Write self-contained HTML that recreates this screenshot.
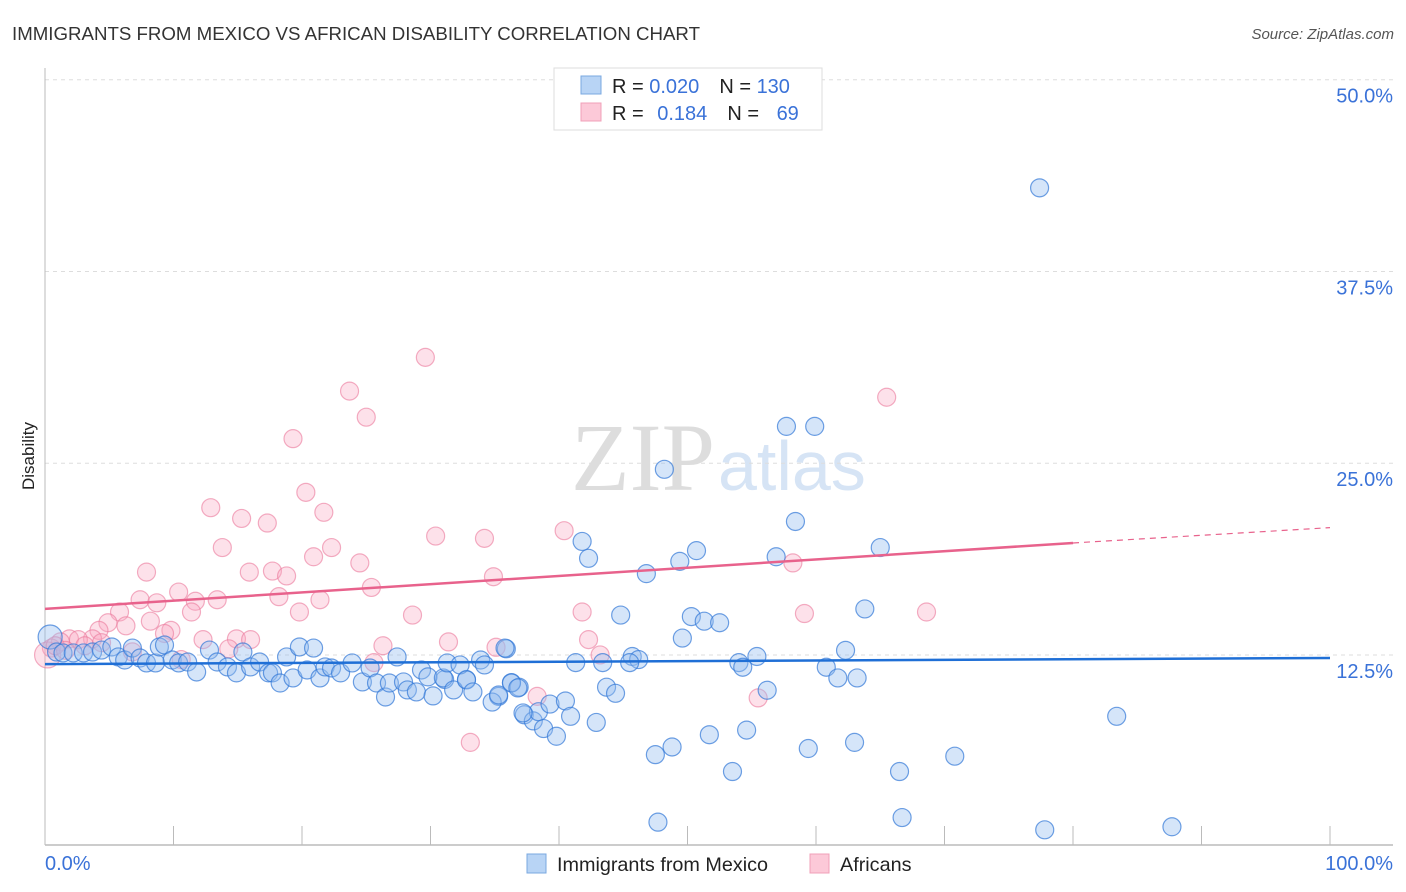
<!DOCTYPE html>
<html><head><meta charset="utf-8"><style>
body{margin:0;background:#fff;font-family:"Liberation Sans",sans-serif;}
svg{display:block}
</style></head><body>
<svg id="chart" width="1406" height="892">
<text x="12" y="40" font-size="18.5" fill="#333" textLength="688" lengthAdjust="spacingAndGlyphs">IMMIGRANTS FROM MEXICO VS AFRICAN DISABILITY CORRELATION CHART</text>
<text x="1394" y="39" font-size="15" fill="#555" text-anchor="end" font-style="italic">Source: ZipAtlas.com</text>
<text x="34" y="456" font-size="17" fill="#222" transform="rotate(-90 34 456)" text-anchor="middle">Disability</text>
<text x="715" y="490" font-size="96" fill="#ddd" text-anchor="end" font-family="Liberation Serif">ZIP</text>
<text x="718" y="490" font-size="70" fill="#d6e4f5">atlas</text>
<g id="grid"></g><g id="pts"></g><g id="lines"></g>
<g>
<rect x="554" y="68" width="268" height="62" fill="#fff" stroke="#ddd"/>
<rect x="581" y="76" width="20" height="18" fill="#b8d4f5" stroke="#7aa8e0"/>
<rect x="581" y="103" width="20" height="18" fill="#fcc9d8" stroke="#f0a0b8"/>
<text x="612" y="93" font-size="20" fill="#222">R = <tspan fill="#3a72d8">0.020</tspan><tspan dx="20">N = </tspan><tspan fill="#3a72d8">130</tspan></text>
<text x="612" y="120" font-size="20" fill="#222">R = <tspan dx="8" fill="#3a72d8">0.184</tspan><tspan dx="20">N = </tspan><tspan dx="12" fill="#3a72d8">69</tspan></text>
</g>
<g>
<rect x="527" y="854" width="19" height="19" fill="#b8d4f5" stroke="#7aa8e0"/>
<text x="557" y="871" font-size="19.8" fill="#222">Immigrants from Mexico</text>
<rect x="810" y="854" width="19" height="19" fill="#fcc9d8" stroke="#f0a0b8"/>
<text x="840" y="871" font-size="19.8" fill="#222">Africans</text>
</g>
<text x="45" y="870" font-size="20" fill="#3a72d8">0.0%</text>
<text x="1393" y="870" font-size="20" fill="#3a72d8" text-anchor="end">100.0%</text>
</svg>
<script>
const yTicks=[12.5,25,37.5,50];
const yTickLabels=["12.5%","25.0%","37.5%","50.0%"];
const xTicks=[0,10,20,30,40,50,60,70,80,90,100];
const blueX=[77.4,48.2,57.7,59.9,58.4,65,41.8,42.3,50.7,49.4,56.9,46.8,63.8,44.8,50.3,51.3,52.5,49.6,35.9,62.3,55.4,45.7,46.2,45.5,43.4,41.3,54,54.3,60.8,61.7,63.2,56.2,43.7,44.4,83.4,42.9,54.6,51.7,48.8,47.5,59.4,63,70.8,53.5,66.5,47.7,66.7,77.8,87.7,
31.1,32.8,35.3,36.3,36.9,37.3,38.0,38.4,38.8,39.3,39.8,40.5,40.9,
0.4,0.9,1.4,2.2,3.0,3.7,4.4,5.2,5.7,6.2,6.8,7.4,7.9,8.6,8.9,9.3,9.9,10.4,11.1,11.8,12.8,13.4,14.2,14.9,15.4,16.0,16.7,17.4,17.7,18.3,18.8,19.3,19.8,20.4,20.9,21.4,21.8,22.3,23.0,23.9,24.7,25.3,25.8,26.5,26.8,27.4,27.9,28.2,28.9,29.3,29.8,30.2,31.0,31.3,31.8,32.3,32.8,33.3,33.9,34.2,34.8,35.3,35.8,36.3,36.8,37.2];
const blueY=[42.95,24.6,27.4,27.4,21.2,19.5,19.9,18.8,19.3,18.6,18.9,17.8,15.5,15.1,15.0,14.7,14.6,13.6,12.9,12.8,12.4,12.4,12.2,12.0,12.0,12.0,12.0,11.7,11.7,11.0,11.0,10.2,10.4,10.0,8.5,8.1,7.6,7.3,6.5,6.0,6.4,6.8,5.9,4.9,4.9,1.6,1.9,1.1,1.3,
10.9,10.9,9.8,10.7,10.4,8.6,8.2,8.8,7.7,9.3,7.2,9.5,8.5,
13.67,12.69,12.63,12.63,12.63,12.69,12.82,13.02,12.37,12.17,12.95,12.3,11.98,11.98,13.02,13.15,12.17,11.98,12.04,11.39,12.82,12.04,11.72,11.33,12.69,11.72,12.04,11.33,11.33,10.67,12.37,11.0,13.02,11.52,12.95,11.0,11.72,11.65,11.33,11.98,10.74,11.65,10.67,9.76,10.67,12.37,10.74,10.22,10.09,11.52,11.07,9.83,11.0,11.98,10.22,11.85,10.87,10.09,12.17,11.85,9.43,9.89,12.95,10.67,10.35,8.72];
const pinkX=[29.6,23.7,25.0,19.3,20.3,12.9,21.7,15.3,17.3,30.4,34.2,40.4,13.8,20.9,22.3,24.5,7.9,15.9,17.7,18.8,34.9,25.4,10.4,18.2,11.7,7.4,8.7,13.4,21.4,5.8,11.4,19.8,28.6,41.8,8.2,4.9,6.3,4.2,9.8,9.3,58.2,65.5,59.1,68.6,42.3,35.1,31.4,26.3,14.9,12.3,3.7,1.9,2.6,1.2,0.5,0.2,0.8,6.8,10.6,43.2,25.6,38.3,55.5,33.1,14.3,3.1,4.4,16.0,1.6];
const pinkY=[31.9,29.7,28.0,26.6,23.1,22.1,21.8,21.4,21.1,20.25,20.1,20.6,19.5,18.9,19.5,18.5,17.9,17.9,17.97,17.65,17.6,16.9,16.6,16.3,16.0,16.1,15.9,16.1,16.1,15.3,15.3,15.3,15.1,15.3,14.7,14.6,14.4,14.1,14.1,13.9,18.5,29.3,15.2,15.3,13.5,13.0,13.35,13.1,13.55,13.5,13.55,13.55,13.5,13.35,12.95,12.5,13.1,12.7,12.2,12.5,12.0,9.8,9.7,6.8,12.9,13.1,13.3,13.5,12.8];
const blueTrend=[11.9,12.3];
const pinkTrend=[15.5,19.8,20.8];
const pinkTrendX=[0,80,100];
const X=v=>45+v*12.85, Y=v=>846.7-v*15.34;
const NS="http://www.w3.org/2000/svg";
function mk(t,a,p){const e=document.createElementNS(NS,t);for(const k in a)e.setAttribute(k,a[k]);p.appendChild(e);return e;}
const grid=document.getElementById('grid');
yTicks.forEach((t,i)=>{
 const l=mk('line',{x1:45,x2:1393,y1:Y(t),y2:Y(t),stroke:'#ddd','stroke-dasharray':'4,4'},grid);
 
 
 const tx=mk('text',{x:1393,y:Y(t)+23,'font-size':20,fill:'#3a72d8','text-anchor':'end'},grid);
 tx.textContent=yTickLabels[i];
 
 
});
const ax=mk('line',{x1:45,x2:1393,y1:845,y2:845,stroke:'#bbb','stroke-width':1.5},grid);


const ay=mk('line',{x1:45,x2:45,y1:68,y2:845,stroke:'#bbb'},grid);


xTicks.forEach(t=>{
 const l=mk('line',{x1:X(t),x2:X(t),y1:826,y2:845,stroke:'#bbb'},grid);
 
 
});
const pts=document.getElementById('pts');
pinkX.forEach((v,i)=>{
 const c=mk('circle',{cx:X(v),cy:Y(pinkY[i]),r:i==55?13:9,fill:'rgba(248,170,195,0.35)',stroke:'rgba(235,120,155,0.6)','stroke-width':1.2},pts);
 
 
});
blueX.forEach((v,i)=>{
 const c=mk('circle',{cx:X(v),cy:Y(blueY[i]),r:i==62?12:9,fill:'rgba(150,190,240,0.4)',stroke:'rgba(50,120,215,0.7)','stroke-width':1.2},pts);
 
 
});
const ln=document.getElementById('lines');
const bl=mk('line',{x1:X(0),x2:X(100),y1:Y(blueTrend[0]),y2:Y(blueTrend[1]),stroke:'#1f6fd6','stroke-width':2.5},ln);


const pl=mk('line',{x1:X(pinkTrendX[0]),x2:X(pinkTrendX[1]),y1:Y(pinkTrend[0]),y2:Y(pinkTrend[1]),stroke:'#e8628c','stroke-width':2.5},ln);


const pd=mk('line',{x1:X(pinkTrendX[1]),x2:X(pinkTrendX[2]),y1:Y(pinkTrend[1]),y2:Y(pinkTrend[2]),stroke:'#e8628c','stroke-width':1.2,'stroke-dasharray':'6,5'},ln);


</script>
</body></html>
